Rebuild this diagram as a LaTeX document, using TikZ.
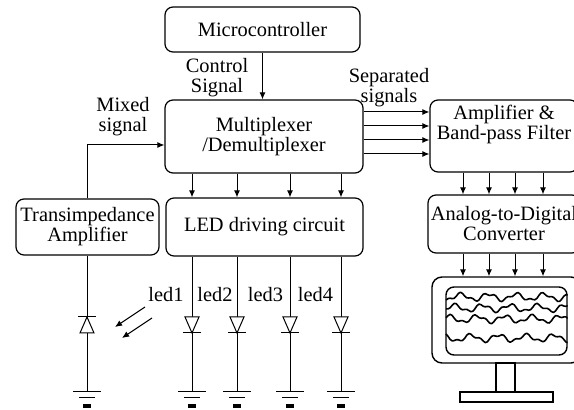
\documentclass[tikz,border=0pt]{standalone}
\usepackage{fontspec}
\setmainfont{Liberation Serif}
\usetikzlibrary{arrows.meta,calc}
% ground symbol hung below a point
\def\earth(#1){\draw ($(#1)+(-14,0)$) -- ++(28,0) ($(#1)+(-8,6)$) -- ++(16,0); \draw[line width=1.6pt] ($(#1)+(-4,14)$) -- ++(8,0);}
% LED pointing down, photodiode pointing up
\def\ledsym(#1){\draw[fill=white] ($(#1)+(-7,0)$) -- ++(14,0) -- ++(-7,16) -- cycle; \draw ($(#1)+(-9,16)$) -- ++(18,0);}
\def\pdsym(#1){\draw[fill=white] ($(#1)+(-7,16)$) -- ++(14,0) -- ++(-7,-16) -- cycle; \draw ($(#1)+(-9,0)$) -- ++(18,0);}

\tikzset{
	blk/.style={draw, rounded corners=4pt, line width=0.6pt, align=center, inner sep=0pt},
	sig/.style={-{Latex[length=3.5pt,width=3pt]}, line width=0.5pt},
	lbl/.style={align=center, inner sep=0pt}
}

\begin{document}
\begin{tikzpicture}[x=0.5pt, y=-0.5pt, line width=0.5pt, font=\fontsize{10.2}{10}\selectfont]
			%%%%% START %%%%%
			\clip (0,0) rectangle (574,410);
			
			% blocks
			\node[blk, minimum width=97.5pt, minimum height=22.5pt] (mcu) at (262.5,29.5) {Microcontroller};
			\node[blk, minimum width=99pt, minimum height=36.5pt] (mux) at (264,136.5) {Multiplexer\\/Demultiplexer};
			\node[blk, minimum width=74pt, minimum height=36pt] (amp) at (504,136) {Amplifier \&\\Band-pass Filter\\[4pt]};
			\node[blk, minimum width=76pt, minimum height=29pt] (adc) at (504,224) {Analog-to-Digital\\Converter};
			\node[blk, minimum width=71.5pt, minimum height=28pt] (tia) at (87.5,227) {Transimpedance\\Amplifier};
			\node[blk, minimum width=98.5pt, minimum height=29pt] (drv) at (264.5,227) {LED driving circuit};
			
			% labels
			\node[lbl] (ctl) at (217,78) {Control\\Signal};
			\node[lbl] (sep) at (389,87.5) {Separated\\signals};
			\node[lbl] (mix) at (123,117) {Mixed\\signal};
			\node[lbl] (l1) at (166,295) {led1};
			\node[lbl] (l2) at (215,295) {led2};
			\node[lbl] (l3) at (265.5,295) {led3};
			\node[lbl] (l4) at (315.5,295) {led4};
			
			% signal paths
			\draw[sig] (mcu.south) -- (mcu.south |- mux.north);
			\draw[sig] (tia.north) |- (mux.west |- 0,145);
			\foreach \y in {112,126,140,154}
				\draw[sig] (mux.east |- 0,\y) -- (amp.west |- 0,\y);
			\foreach \x in {192,237,290,341}
				\draw[sig] (mux.south -| \x,0) -- (drv.north -| \x,0);
			\foreach \x in {463,489,515,543}
				\draw[sig] (amp.south -| \x,0) -- (adc.north -| \x,0);
			
			% monitor
			\node[draw, rounded corners=5pt, line width=0.7pt, minimum width=74.5pt, minimum height=43pt] (mon) at (506.5,320) {};
			\node[draw, rounded corners=4pt, line width=0.7pt, minimum width=60.5pt, minimum height=34pt] (scr) at (506.5,321) {};
			\foreach \x in {463,489,515,543}
				\draw[sig] (adc.south -| \x,0) -- (mon.north -| \x,0);
			\draw[line width=0.6pt] (496,363) rectangle (515,392);
			\draw[line width=0.6pt] (460,392) rectangle (553,402);
			\begin{scope}
				\clip (scr.south west) rectangle (scr.north east);
				\foreach \b/\p in {297/0,308/80,319/150,338/230}
					\draw[line width=0.8pt, line join=round] plot[domain=446:568, samples=60] (\x,{\b+3.2*sin((\x-440)*13+\p)+1.6*sin((\x-440)*31+2*\p)});
			\end{scope}
			
			% photodiode branch
			\coordinate (g0) at (87,392);
			\draw (tia.south -| g0) -- (g0);
			\pdsym(87,317);
			\earth(g0);
			\draw[sig] (145,307) -- (115,327);
			\draw[sig] (152,318) -- (122,338);
			
			% LED branches
			\foreach \x [count=\i] in {192,237,290,341} {
				\coordinate (g\i) at (\x,392);
				\draw (drv.south -| \x,0) -- (g\i);
				\ledsym(\x,317);
				\earth(g\i);
			}
			%%%%% END %%%%%
\end{tikzpicture}
\end{document}
